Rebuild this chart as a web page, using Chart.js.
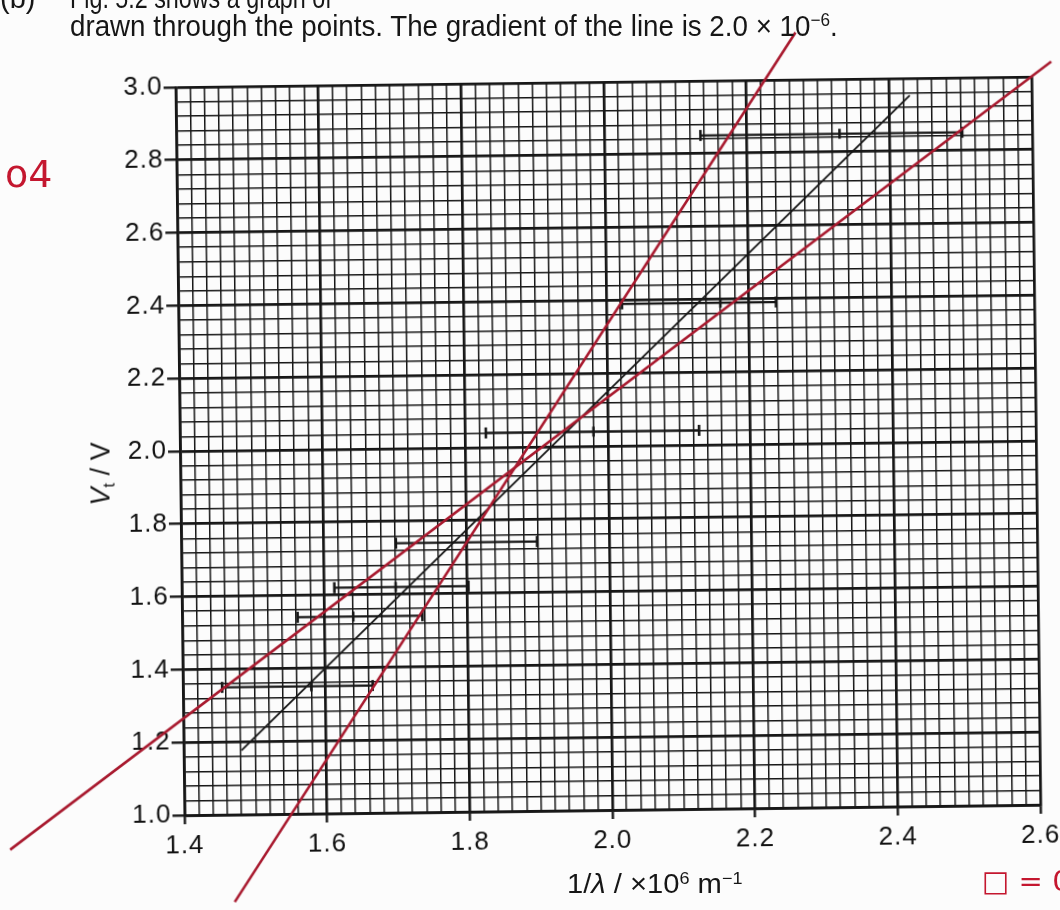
<!DOCTYPE html>
<html><head><meta charset="utf-8">
<script src="https://cdn.jsdelivr.net/npm/chart.js@4.4.1/dist/chart.umd.min.js"></script>
<style>
html,body{margin:0;padding:0;background:#fcfcfc;}
#wrap{position:relative;width:1060px;height:910px;overflow:hidden;background:#fcfcfc;}
canvas{position:absolute;left:0;top:0;transform-origin:610px 446px;transform:rotate(-0.7deg);}
.t{position:absolute;white-space:nowrap;font-family:"Liberation Sans",Arial,sans-serif;color:#161616;line-height:normal;}
.fit{transform-origin:0 0;}
sup{font-size:0.62em;position:relative;top:-0.55em;vertical-align:baseline;line-height:0;}
sub{font-size:0.62em;position:relative;top:0.3em;vertical-align:baseline;line-height:0;}
.red{color:#c4172f;font-family:"DejaVu Sans",sans-serif;}
</style></head><body>
<div id="wrap">
<canvas id="c" width="1060" height="910"></canvas>
<div class="t" style="left:0px;top:-18px;font-size:29px;">(b)</div>
<div class="t fit" id="line1" style="left:70px;top:-18px;font-size:29px;">Fig. 5.2 shows a graph of</div>
<div class="t fit" id="line2" style="left:70px;top:10px;font-size:29px;">drawn through the points. The gradient of the line is 2.0 × 10<sup>−6</sup>.</div>
<div class="t" id="ytitle" style="left:101px;top:474px;font-size:27px;transform:translate(-50%,-50%) rotate(-90deg);"><i>V</i><sub>t</sub> / V</div>
<div class="t fit" id="xtitle" style="left:567px;top:869px;font-size:27px;">1/<i>λ</i> / ×10<sup>6</sup> m<sup>−1</sup></div>
<div class="t red" style="left:5px;top:152px;font-size:38px;">o4</div>
<div class="t red" style="left:982px;top:864px;font-size:29px;">□ = 0</div>
</div>
<script>
// axis ranges and tick labels
const xRange = [1.4, 2.6];
const yRange = [1.0, 3.0];
const xStep = 0.02;
const yStep = 0.04;
const majorEvery = 0.2;

// data points (V_t against 1/lambda) with horizontal error bars
const pointX  = [1.58, 1.64, 1.70, 1.80, 1.98, 2.16, 2.33];
const pointY  = [1.35, 1.54, 1.62, 1.74, 2.04, 2.39, 2.85];
const errLow  = [1.455, 1.562, 1.614, 1.701, 1.829, 2.022, 2.135];
const errHigh = [1.666, 1.737, 1.802, 1.899, 2.128, 2.238, 2.502];

// best-fit line (black) and worst-fit lines (red)
const bestX  = [1.481, 2.429];
const bestY  = [1.176, 2.953];
const steepX = [1.469, 2.270];
const steepY = [0.760, 3.130];
const shallowX = [1.155, 2.628];
const shallowY = [0.911, 3.041];

function isMajor(v){ const r = v/majorEvery; return Math.abs(r-Math.round(r)) < 1e-6; }
function pts(xs, ys){ return xs.map((x,i)=>({x:x, y:ys[i]})); }

const ink = '#161616';
const redInk = '#a8192e';
const datasets = [];
datasets.push({data: pts(steepX, steepY), showLine:true, borderColor:redInk, borderWidth:2.6, pointRadius:0, clip:false, order:0});
datasets.push({data: pts(shallowX, shallowY), showLine:true, borderColor:redInk, borderWidth:2.6, pointRadius:0, clip:false, order:0});
datasets.push({data: pts(bestX, bestY), showLine:true, borderColor:ink, borderWidth:1.9, pointRadius:0, clip:false, order:1});
pointX.forEach((px,i)=>{
  datasets.push({data: pts([errLow[i], errHigh[i]], [pointY[i], pointY[i]]), showLine:true, borderColor:ink, borderWidth:2.3,
    pointStyle:'line', rotation:90, pointRadius:5.5, pointBorderWidth:2.6, pointBorderColor:ink, order:2});
});
datasets.push({data: pts(pointX, pointY), showLine:false, pointStyle:'line', rotation:90, pointRadius:5,
  pointBorderWidth:2.6, borderColor:ink, order:2});

const tickFont = {family:'"Liberation Sans", Arial, sans-serif', size:26};
function gridOpts(len){
  return {
    color: c => ink,
    lineWidth: c => (c.tick && isMajor(c.tick.value)) ? 2.7 : 1.5,
    tickColor: c => (c.tick && isMajor(c.tick.value)) ? ink : 'rgba(0,0,0,0)',
    tickWidth: 2.4,
    tickLength: len,
    drawOnChartArea: true
  };
}

const spacing = {id:'spacing', beforeDraw(chart){ chart.ctx.letterSpacing = '1px'; }};

new Chart(document.getElementById('c'), {
  type: 'scatter',
  data: {datasets},
  plugins:[spacing],
  options: {
    responsive:false, animation:false, devicePixelRatio:1,
    layout:{padding:{top:82, right:20, left:0, bottom:0}},
    plugins:{legend:{display:false}, tooltip:{enabled:false}},
    scales:{
      x:{type:'linear', min:xRange[0], max:xRange[1],
        ticks:{stepSize:xStep, autoSkip:false, maxRotation:0, minRotation:0, maxTicksLimit:1000, color:'#111', font:tickFont, padding:6,
          callback: v => isMajor(v) ? v.toFixed(1) : ''},
        grid: gridOpts(9),
        border:{display:true, color:ink, width:2.7},
        afterFit: s => { s.height = 100; }
      },
      y:{type:'linear', min:yRange[0], max:yRange[1],
        ticks:{stepSize:yStep, autoSkip:false, maxTicksLimit:1000, color:'#111', font:tickFont, padding:1,
          callback: v => isMajor(v) ? v.toFixed(1) : ''},
        grid: gridOpts(12),
        border:{display:true, color:ink, width:2.7},
        afterFit: s => { s.width = 180; }
      }
    }
  }
});

function fitWidth(id, w){ const el=document.getElementById(id); el.style.transform='scaleX('+(w/el.offsetWidth)+')'; }
fitWidth('line2', 768);
fitWidth('line1', 262);
fitWidth('xtitle', 176);
</script>
</body></html>
